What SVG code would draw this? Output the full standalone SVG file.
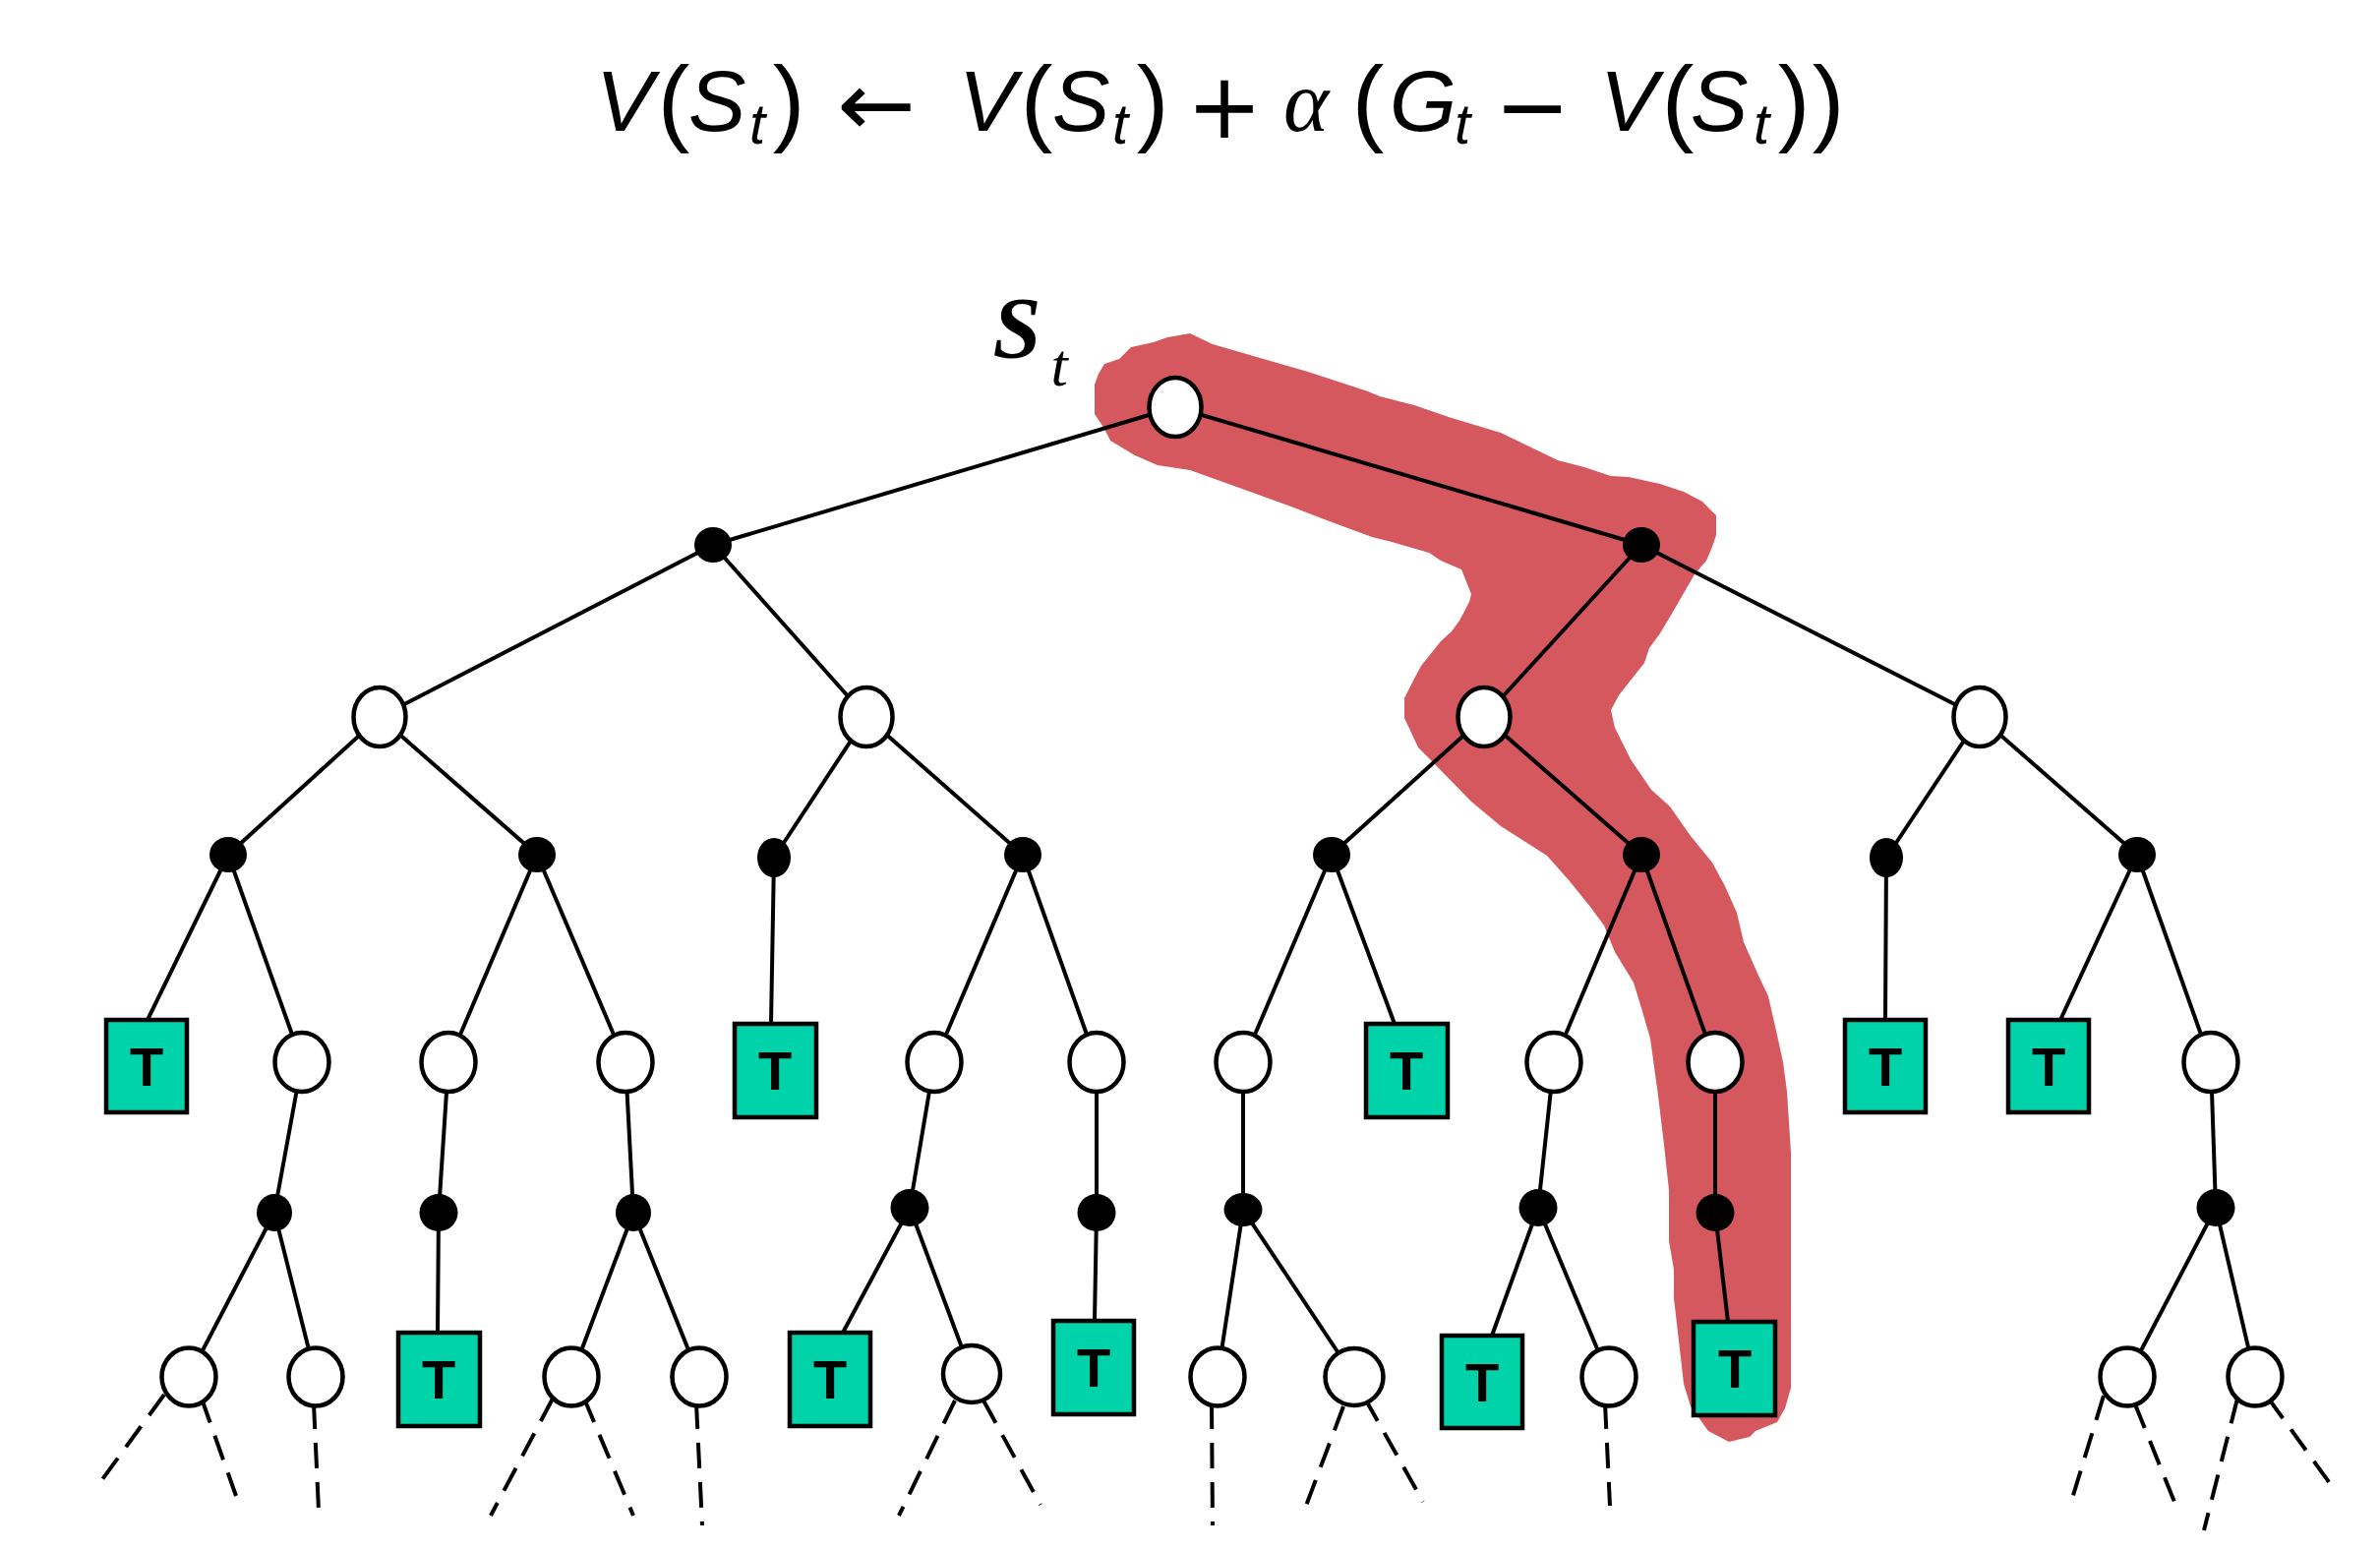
<svg xmlns="http://www.w3.org/2000/svg" width="2420" height="1576" viewBox="0 0 2420 1576">
<style>
.w{fill:#fff;stroke:#000;stroke-width:4.5}
.b{fill:#000}
.tb{fill:#00D2AA;stroke:#000;stroke-width:4.5}
.tl{font-family:"Liberation Sans",Arial,sans-serif;font-weight:bold;font-size:56px;text-anchor:middle;fill:#000}
.e{stroke:#000;stroke-width:4;fill:none;stroke-linecap:butt}
.d{stroke-dasharray:26 14}
.m{font-family:"Liberation Sans",Arial,sans-serif;font-style:italic;font-size:88px;text-anchor:middle;fill:#000}
.sub{font-family:"Liberation Sans",Arial,sans-serif;font-style:italic;font-size:58px;text-anchor:middle;fill:#000}
.p{font-family:"Liberation Sans",Arial,sans-serif;font-size:98px;text-anchor:middle;fill:#000}
.op{font-family:"DejaVu Sans",sans-serif;font-size:92px;text-anchor:middle;fill:#000}
</style>
<rect width="2420" height="1576" fill="#fff"/>
<g id="title">
<text class="m" x="635" y="133">V</text>
<text class="p" x="685" y="136">(</text>
<text class="m" x="729" y="133">S</text>
<text class="sub" x="770" y="146">t</text>
<text class="p" x="802" y="136">)</text>
<text class="op" x="891" y="138" textLength="80" lengthAdjust="spacingAndGlyphs">←</text>
<text class="m" x="1004" y="133">V</text>
<text class="p" x="1054" y="136">(</text>
<text class="m" x="1099" y="133">S</text>
<text class="sub" x="1139" y="146">t</text>
<text class="p" x="1172" y="136">)</text>
<text class="op" x="1245" y="140">+</text>
<text x="1328" y="133" font-family="'Liberation Serif',serif" font-style="italic" font-size="88" text-anchor="middle">α</text>
<text class="p" x="1391" y="136">(</text>
<text class="m" x="1447" y="133">G</text>
<text class="sub" x="1487" y="146">t</text>
<text class="op" x="1558" y="140">−</text>
<text class="m" x="1656" y="133">V</text>
<text class="p" x="1706" y="136">(</text>
<text class="m" x="1748" y="133">S</text>
<text class="sub" x="1791" y="146">t</text>
<text class="p" x="1824" y="136">)</text>
<text class="p" x="1859" y="136">)</text>
</g>
<g id="highlight">
<path fill="#D5585F" d="M1117,380 L1123,370 L1138,365 L1150,353 L1173,348 L1187,343 L1210,339 L1233,350 L1330,378 L1391,398 L1403,403 L1438,412 L1476,425 L1526,440 L1584,468 L1611,475 L1638,484 L1656,485 L1688,492 L1712,500 L1731,510 L1745,524 L1745,544 L1741,556 L1735,570 L1723,584 L1704,617 L1688,644 L1677,659 L1672,674 L1646,707 L1638,722 L1642,740 L1658,772 L1679,803 L1698,820 L1719,850 L1741,877 L1754,901 L1766,928 L1773,958 L1789,994 L1798,1013 L1806,1048 L1813,1080 L1817,1110 L1821,1172 L1821,1411 L1815,1432 L1807,1446 L1785,1455 L1779,1461 L1758,1466 L1737,1455 L1719,1430 L1712,1407 L1708,1372 L1702,1320 L1702,1291 L1697,1262 L1697,1210 L1692,1164 L1686,1114 L1678,1056 L1669,1025 L1661,999 L1642,968 L1631,941 L1617,922 L1596,896 L1573,870 L1526,840 L1496,815 L1457,775 L1442,760 L1428,730 L1428,710 L1438,690 L1445,677 L1465,652 L1476,642 L1484,631 L1494,612 L1496,604 L1486,579 L1465,570 L1453,562 L1415,551 L1395,546 L1349,529 L1310,514 L1210,478 L1177,473 L1154,463 L1129,448 L1123,436 L1113,421 L1113,391 Z"/>
</g>
<g id="label-st">
<text x="1034" y="363" font-family="'Liberation Serif',serif" font-style="italic" font-weight="bold" font-size="88" text-anchor="middle">S</text>
<text x="1077" y="392" font-family="'Liberation Serif',serif" font-style="italic" font-size="62" text-anchor="middle">t</text>
</g>
<g id="connectors">
<path class="e" d="M1195,414L725,554 M1195,414L1669,554 M725,554L386,729 M725,554L881,729 M1669,554L1509,729 M1669,554L2013,729 M386,729L232,869 M386,729L546,869 M881,729L787,872 M881,729L1040,869 M1509,729L1354,869 M1509,729L1669,869 M2013,729L1918,872 M2013,729L2173,869 M232,869L150,1037 M232,869L307,1080 M546,869L456,1080 M546,869L636,1080 M787,872L784,1041 M1040,869L950,1080 M1040,869L1115,1080 M1354,869L1264,1080 M1354,869L1418,1041 M1669,869L1580,1080 M1669,869L1744,1080 M1918,872L1917,1037 M2173,869L2095,1037 M2173,869L2248,1080 M307,1080L279,1233 M456,1080L446,1233 M636,1080L644,1233 M950,1080L925,1228 M1115,1080L1115,1233 M1264,1080L1264,1230 M1580,1080L1564,1228 M1744,1080L1744,1233 M2248,1080L2253,1228 M279,1233L192,1400 M279,1233L321,1400 M446,1233L445,1355 M644,1233L581,1400 M644,1233L711,1400 M925,1228L857,1355 M925,1228L988,1397 M1115,1233L1113,1343 M1264,1230L1238,1400 M1264,1230L1377,1400 M1564,1228L1517,1358 M1564,1228L1636,1400 M1744,1233L1757,1344 M2253,1228L2163,1400 M2253,1228L2293,1400"/>
<path class="e d" d="M167,1418L99,1511 M205,1422L240,1521 M319,1427L324,1536 M562,1422L499,1541 M594,1422L644,1541 M708,1427L714,1551 M971,1424L914,1541 M1000,1424L1058,1530 M1232,1427L1233,1551 M1366,1430L1328,1531 M1388,1422L1447,1527 M1632,1427L1637,1531 M2139,1419L2106,1527 M2171,1428L2211,1527 M2275,1422L2241,1556 M2306,1421L2371,1511"/>
</g>
<g id="root"><ellipse class="w" cx="1195" cy="414" rx="26.5" ry="30"/></g>
<g id="a1"><ellipse class="b" cx="725" cy="554" rx="19" ry="18"/></g>
<g id="a2"><ellipse class="b" cx="1669" cy="554" rx="19" ry="18"/></g>
<g id="s1"><ellipse class="w" cx="386" cy="729" rx="26.5" ry="30"/></g>
<g id="s2"><ellipse class="w" cx="881" cy="729" rx="26.5" ry="30"/></g>
<g id="s3"><ellipse class="w" cx="1509" cy="729" rx="26.5" ry="30"/></g>
<g id="s4"><ellipse class="w" cx="2013" cy="729" rx="26.5" ry="30"/></g>
<g id="b1"><ellipse class="b" cx="232" cy="869" rx="19" ry="18"/></g>
<g id="b2"><ellipse class="b" cx="546" cy="869" rx="19" ry="18"/></g>
<g id="b3"><ellipse class="b" cx="787" cy="872" rx="17" ry="20"/></g>
<g id="b4"><ellipse class="b" cx="1040" cy="869" rx="19" ry="18"/></g>
<g id="b5"><ellipse class="b" cx="1354" cy="869" rx="19" ry="18"/></g>
<g id="b6"><ellipse class="b" cx="1669" cy="869" rx="19" ry="18"/></g>
<g id="b7"><ellipse class="b" cx="1918" cy="872" rx="17" ry="20"/></g>
<g id="b8"><ellipse class="b" cx="2173" cy="869" rx="19" ry="18"/></g>
<g id="t1"><rect class="tb" x="108" y="1037" width="82" height="94"/><text class="tl" x="149" y="1104">T</text></g>
<g id="w1"><ellipse class="w" cx="307" cy="1080" rx="27.5" ry="30"/></g>
<g id="w2"><ellipse class="w" cx="456" cy="1080" rx="27.5" ry="30"/></g>
<g id="w3"><ellipse class="w" cx="636" cy="1080" rx="27.5" ry="30"/></g>
<g id="t2"><rect class="tb" x="747" y="1041" width="83" height="95"/><text class="tl" x="788" y="1108">T</text></g>
<g id="w4"><ellipse class="w" cx="950" cy="1080" rx="27.5" ry="30"/></g>
<g id="w5"><ellipse class="w" cx="1115" cy="1080" rx="27.5" ry="30"/></g>
<g id="w6"><ellipse class="w" cx="1264" cy="1080" rx="27.5" ry="30"/></g>
<g id="t3"><rect class="tb" x="1389" y="1041" width="83" height="95"/><text class="tl" x="1430" y="1108">T</text></g>
<g id="w7"><ellipse class="w" cx="1580" cy="1080" rx="27.5" ry="30"/></g>
<g id="w8"><ellipse class="w" cx="1744" cy="1080" rx="27.5" ry="30"/></g>
<g id="t4"><rect class="tb" x="1876" y="1037" width="82" height="94"/><text class="tl" x="1917" y="1104">T</text></g>
<g id="t5"><rect class="tb" x="2042" y="1037" width="82" height="94"/><text class="tl" x="2083" y="1104">T</text></g>
<g id="w9"><ellipse class="w" cx="2248" cy="1080" rx="27.5" ry="30"/></g>
<g id="c1"><ellipse class="b" cx="279" cy="1233" rx="18" ry="19"/></g>
<g id="c2"><ellipse class="b" cx="446" cy="1233" rx="19.5" ry="19"/></g>
<g id="c3"><ellipse class="b" cx="644" cy="1233" rx="18" ry="19"/></g>
<g id="c4"><ellipse class="b" cx="925" cy="1228" rx="19.5" ry="19"/></g>
<g id="c5"><ellipse class="b" cx="1115" cy="1233" rx="19.5" ry="19"/></g>
<g id="c6"><ellipse class="b" cx="1264" cy="1230" rx="19.5" ry="17"/></g>
<g id="c7"><ellipse class="b" cx="1564" cy="1228" rx="19.5" ry="19"/></g>
<g id="c8"><ellipse class="b" cx="1744" cy="1233" rx="19.5" ry="19"/></g>
<g id="c9"><ellipse class="b" cx="2253" cy="1228" rx="19.5" ry="19"/></g>
<g id="x1"><ellipse class="w" cx="192" cy="1400" rx="27.5" ry="29.5"/></g>
<g id="x2"><ellipse class="w" cx="321" cy="1400" rx="27.5" ry="29.5"/></g>
<g id="t6"><rect class="tb" x="405" y="1355" width="83" height="95"/><text class="tl" x="446" y="1422">T</text></g>
<g id="x3"><ellipse class="w" cx="581" cy="1400" rx="27.5" ry="29.5"/></g>
<g id="x4"><ellipse class="w" cx="711" cy="1400" rx="27.5" ry="29.5"/></g>
<g id="t7"><rect class="tb" x="803" y="1355" width="82" height="95"/><text class="tl" x="844" y="1422">T</text></g>
<g id="x5"><ellipse class="w" cx="988" cy="1397" rx="29" ry="29"/></g>
<g id="t8"><rect class="tb" x="1071" y="1343" width="82" height="95"/><text class="tl" x="1112" y="1410">T</text></g>
<g id="x6"><ellipse class="w" cx="1238" cy="1400" rx="27.5" ry="29.5"/></g>
<g id="x7"><ellipse class="w" cx="1377" cy="1400" rx="29.5" ry="29"/></g>
<g id="t9"><rect class="tb" x="1466" y="1358" width="82" height="94"/><text class="tl" x="1507" y="1425">T</text></g>
<g id="x8"><ellipse class="w" cx="1636" cy="1400" rx="27.5" ry="29.5"/></g>
<g id="t10"><rect class="tb" x="1722" y="1344" width="83" height="95"/><text class="tl" x="1764" y="1411">T</text></g>
<g id="x9"><ellipse class="w" cx="2163" cy="1400" rx="27.5" ry="29.5"/></g>
<g id="x10"><ellipse class="w" cx="2293" cy="1400" rx="27.5" ry="29.5"/></g>
</svg>
